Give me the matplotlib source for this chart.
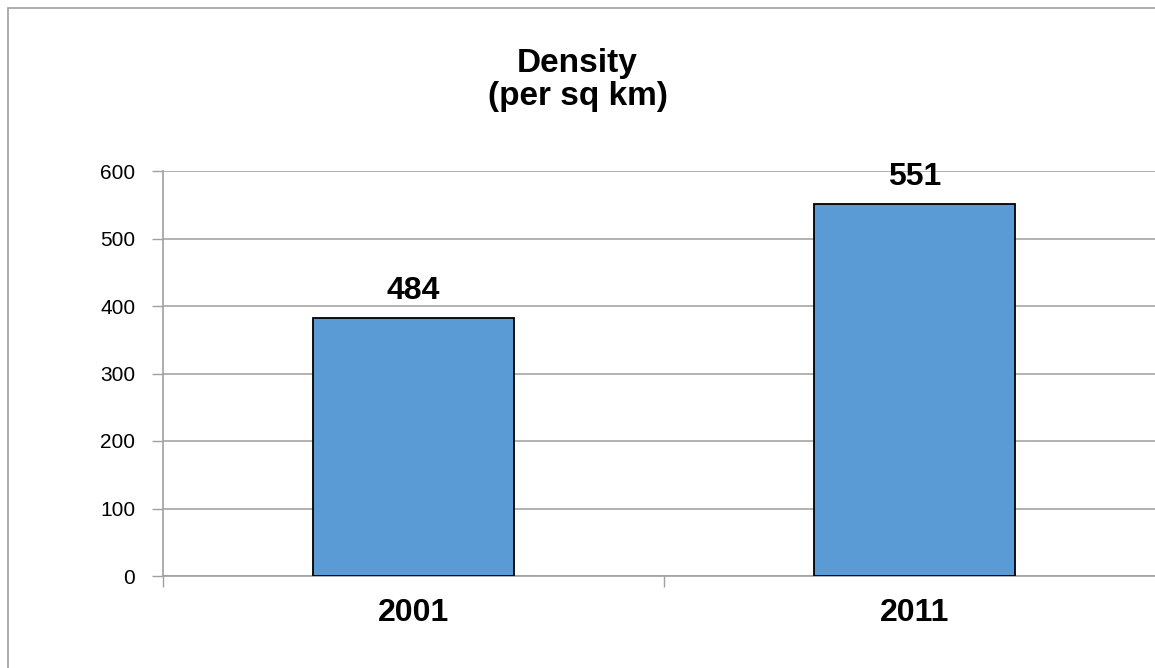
import matplotlib.pyplot as plt
from matplotlib.patches import Rectangle

years = ['2001', '2011']
bar_heights = [382, 551]
value_labels = ['484', '551']
y_ticks = [0, 100, 200, 300, 400, 500, 600]

plt.rcParams['font.family'] = ['Liberation Sans', 'DejaVu Sans']

fig = plt.figure(figsize=(11.55, 6.68), dpi=100)
W, H = 1155, 668

# outer chart border (right and bottom edges fall off the picture)
fig.patches.append(Rectangle((8 / W, -0.1), 1.2, 1 - 8 / H + 0.1, transform=fig.transFigure,
                             fill=False, edgecolor='#a0a0a0', linewidth=1.2))

ax = fig.add_axes([163 / W, (H - 576) / H, 1002 / W, 405 / H])
x = list(range(len(years)))
ax.bar(x, bar_heights, width=0.4, color='#5b9bd5', edgecolor='black', linewidth=1.3, zorder=3)

for xi, h, lab in zip(x, bar_heights, value_labels):
    ax.annotate(lab, (xi, h), xytext=(0, 14), textcoords='offset points',
                ha='center', va='baseline', fontsize=23, fontweight='bold')

ax.set_xlim(-0.5, 1.5)
ax.set_ylim(0, 600)
ax.set_yticks(y_ticks)
ax.set_yticklabels([str(v) for v in y_ticks], fontsize=15)
ax.set_xticks(x)
ax.set_xticklabels(years, fontsize=23, fontweight='bold')
ax.tick_params(axis='x', length=0, pad=16)
ax.set_xticks([-0.5, 0.5, 1.5], minor=True)
ax.tick_params(axis='x', which='minor', length=8, color='#a0a0a0', width=1)
ax.tick_params(axis='y', length=8, color='#a0a0a0', width=1, pad=12)
ax.grid(axis='y', color='#a6a6a6', linewidth=1.2, zorder=0)
for side in ['top', 'right']:
    ax.spines[side].set_visible(False)
for side in ['left', 'bottom']:
    ax.spines[side].set_color('#a0a0a0')
    ax.spines[side].set_linewidth(1.2)

fig.text(0.5, 1 - 80 / H, 'Density\n(per sq km)', ha='center', va='center',
         fontsize=24, fontweight='bold', linespacing=1.1)

fig.savefig('out.png', dpi=100)
